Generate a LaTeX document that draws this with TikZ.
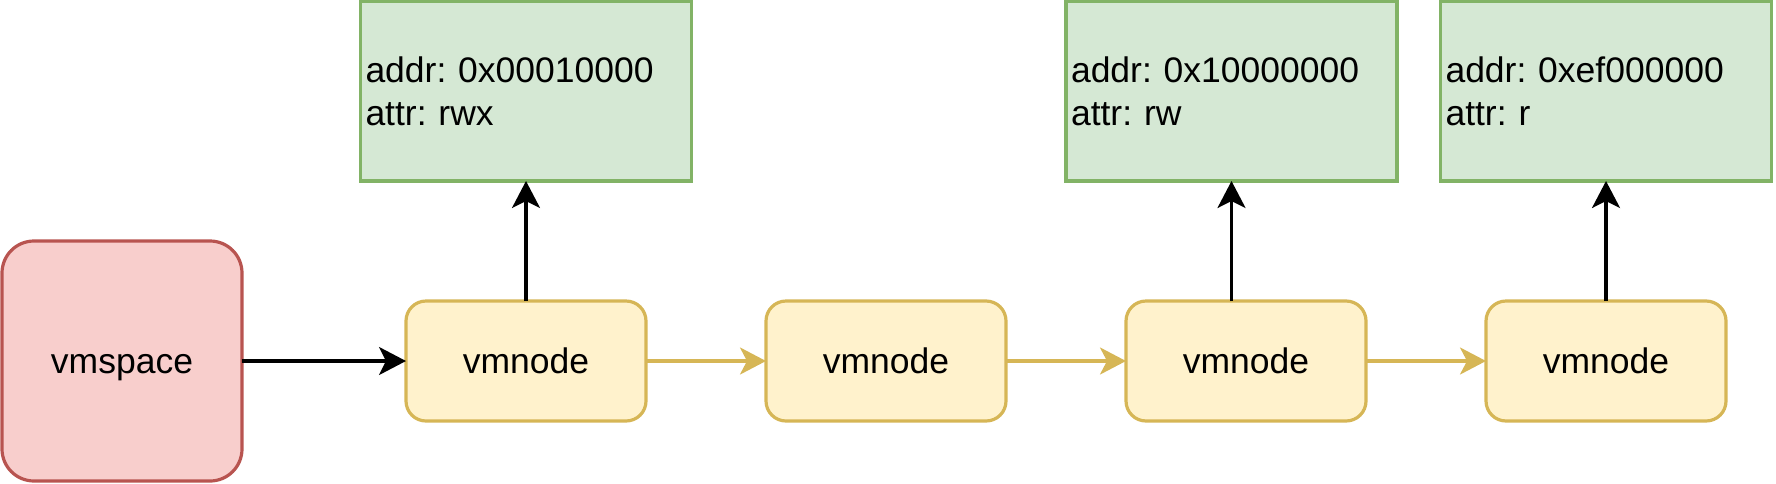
\documentclass[tikz,border=0pt]{standalone}
\usepackage{fontspec}
\setmainfont{Liberation Sans}
\usetikzlibrary{arrows.meta}
\frenchspacing
\definecolor{redfill}{HTML}{F8CECC}
\definecolor{redline}{HTML}{B85450}
\definecolor{yelfill}{HTML}{FFF2CC}
\definecolor{yelline}{HTML}{D6B656}
\definecolor{grnfill}{HTML}{D5E8D4}
\definecolor{grnline}{HTML}{82B366}
\tikzset{
  basebox/.style={line width=3.2pt, inner sep=0pt, outer sep=0pt,
    font=\fontsize{35.5}{43}\selectfont\frenchspacing},
  spacebox/.style={basebox, draw=redline, fill=redfill, rounded corners=32pt,
    minimum width=240pt, minimum height=240pt, text height=25.5pt, text depth=0pt},
  nodebox/.style={basebox, draw=yelline, fill=yelfill, rounded corners=20pt,
    minimum width=240pt, minimum height=120pt, text height=25.5pt, text depth=0pt},
  infobox/.style={basebox, draw=grnline, fill=grnfill,
    minimum width=331pt, minimum height=180pt, align=left,
    text width=321pt, inner xsep=5pt},
  blackarrow/.style={line width=3.2pt, draw=black,
    -{Stealth[length=27pt,width=28pt,inset=7pt]}},
  yelarrow/.style={line width=3.2pt, draw=yelline,
    -{Stealth[length=26pt,width=27pt,inset=7pt,fill=yelline]}},
}
\begin{document}
\begin{tikzpicture}[x=1pt,y=-1pt]
\useasboundingbox (0,0) rectangle (1776,483);
\node[spacebox] (vs) at (122,361) {vmspace};
\node[nodebox] (v1) at (526,361) {vmnode};
\node[nodebox] (v2) at (886,361) {vmnode};
\node[nodebox] (v3) at (1246,361) {vmnode};
\node[nodebox] (v4) at (1606,361) {vmnode};
\node[infobox] (g1) at (526,91) {addr: 0x00010000\\attr: rwx};
\node[infobox] (g2) at (1231.5,91) {addr: 0x10000000\\attr: rw};
\node[infobox] (g3) at (1606,91) {addr: 0xef000000\\attr: r};
\draw[blackarrow] (vs.east) -- (v1.west);
\draw[yelarrow] (v1.east) -- (v2.west);
\draw[yelarrow] (v2.east) -- (v3.west);
\draw[yelarrow] (v3.east) -- (v4.west);
\draw[blackarrow] (v1.north) -- (g1.south);
\draw[blackarrow] (g2.south |- v3.north) -- (g2.south);
\draw[blackarrow] (v4.north) -- (g3.south);
\end{tikzpicture}
\end{document}
